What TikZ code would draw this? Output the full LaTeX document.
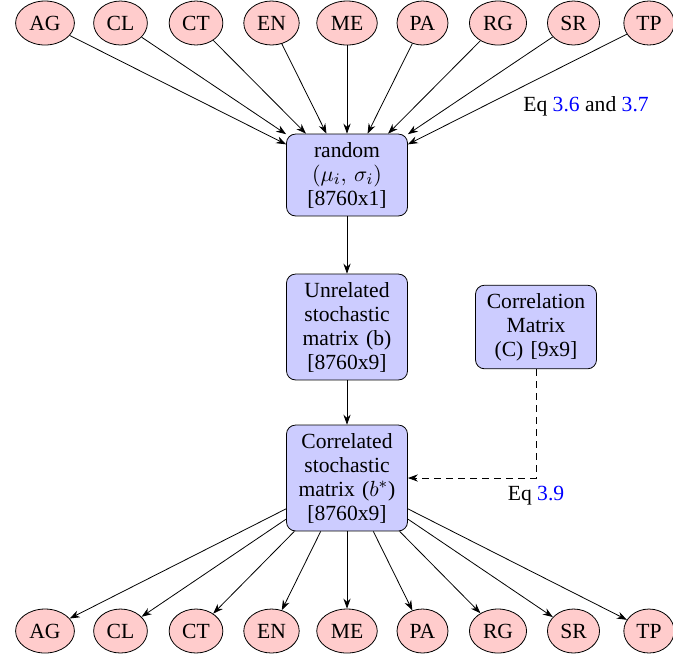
\documentclass[tikz,border=0pt]{standalone}
\usepackage{fontspec}
\setmainfont{Liberation Serif}
\usetikzlibrary{shapes.geometric,arrows.meta}
\definecolor{boxfill}{RGB}{204,204,255}
\definecolor{ellfill}{RGB}{255,204,204}
\definecolor{linkblue}{RGB}{0,0,255}
\begin{document}
\begin{tikzpicture}[x=0.5pt,y=-0.5pt,
  font=\fontsize{10.8}{12}\selectfont,
  var/.style={ellipse,draw,fill=ellfill,minimum height=22pt,inner sep=2.6pt},
  proc/.style={rectangle,rounded corners=4.5pt,draw,fill=boxfill,text width=52.5pt,align=center,inner sep=4pt},
  arr/.style={-{Stealth[length=5pt,width=3.6pt]}},
  lbl/.style={inner sep=1pt}]
\useasboundingbox (0,0) rectangle (673,655);
\foreach \n/\x in {AG/45,CL/120.5,CT/196,EN/271.5,ME/347,PA/422.5,RG/498,SR/573.5,TP/649}{
  \node[var] (t\n) at (\x,23) {\n};
  \node[var] (b\n) at (\x,631) {\n};
}
\node[proc] (rand) at (347,175) {random\\$(\mu_i,\,\sigma_i)$\\{}[8760x1]};
\node[proc] (unrel) at (347,327) {Unrelated stochastic matrix (b) [8760x9]};
\node[proc] (corr) at (347,478) {Correlated stochastic matrix ($b^{*}$) [8760x9]};
\node[proc] (cm) at (536,327) {Correlation Matrix (C) [9x9]};
\foreach \n in {AG,CL,CT,EN,ME,PA,RG,SR,TP}{
  \draw[arr] (t\n) -- (rand);
  \draw[arr] (corr) -- (b\n);
}
\draw[arr] (rand) -- (unrel);
\draw[arr] (unrel) -- (corr);
\coordinate (k) at (cm.south |- corr.east);
\draw[arr,dash pattern=on 3.5pt off 2.5pt] (cm.south) -- (k) -- (corr.east);
\node[lbl,below=3pt] (eq39) at (k) {Eq \textcolor{linkblue}{3.9}};
\node[lbl] (eq36) at (586,106) {Eq \textcolor{linkblue}{3.6} and \textcolor{linkblue}{3.7}};
\end{tikzpicture}
\end{document}
